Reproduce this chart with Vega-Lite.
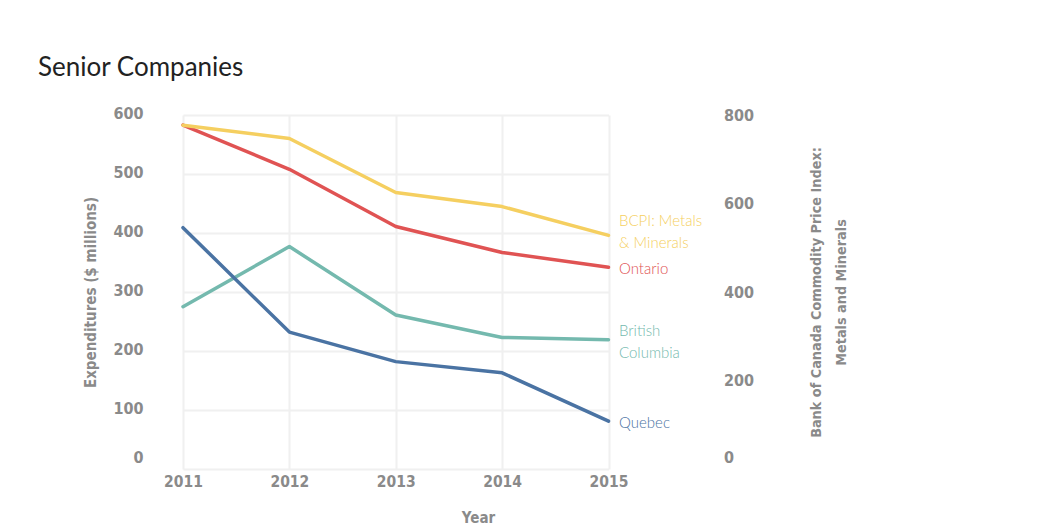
{
  "$schema": "https://vega.github.io/schema/vega-lite/v6.json",
  "width": 425.5,
  "height": 354,
  "autosize": {"type": "none"},
  "padding": {"left": 183, "top": 115, "right": 450.5, "bottom": 56},
  "background": "white",
  "title": {
    "text": "Senior Companies",
    "anchor": "start",
    "frame": "group",
    "font": "Lato",
    "fontSize": 26,
    "fontWeight": "normal",
    "color": "#222222",
    "dx": -145,
    "offset": 24
  },
  "data": {
    "values": [
      {"year": 2011, "series": "Ontario", "value": 583, "label": "Ontario"},
      {"year": 2012, "series": "Ontario", "value": 508, "label": "Ontario"},
      {"year": 2013, "series": "Ontario", "value": 411, "label": "Ontario"},
      {"year": 2014, "series": "Ontario", "value": 367, "label": "Ontario"},
      {"year": 2015, "series": "Ontario", "value": 342, "label": "Ontario"},
      {"year": 2011, "series": "British Columbia", "value": 275, "label": "British\nColumbia"},
      {"year": 2012, "series": "British Columbia", "value": 377, "label": "British\nColumbia"},
      {"year": 2013, "series": "British Columbia", "value": 261, "label": "British\nColumbia"},
      {"year": 2014, "series": "British Columbia", "value": 223, "label": "British\nColumbia"},
      {"year": 2015, "series": "British Columbia", "value": 219, "label": "British\nColumbia"},
      {"year": 2011, "series": "Quebec", "value": 409, "label": "Quebec"},
      {"year": 2012, "series": "Quebec", "value": 232, "label": "Quebec"},
      {"year": 2013, "series": "Quebec", "value": 182, "label": "Quebec"},
      {"year": 2014, "series": "Quebec", "value": 163, "label": "Quebec"},
      {"year": 2015, "series": "Quebec", "value": 81, "label": "Quebec"},
      {"year": 2011, "series": "BCPI", "value": 777, "label": "BCPI: Metals\n& Minerals"},
      {"year": 2012, "series": "BCPI", "value": 747, "label": "BCPI: Metals\n& Minerals"},
      {"year": 2013, "series": "BCPI", "value": 625, "label": "BCPI: Metals\n& Minerals"},
      {"year": 2014, "series": "BCPI", "value": 593, "label": "BCPI: Metals\n& Minerals"},
      {"year": 2015, "series": "BCPI", "value": 528, "label": "BCPI: Metals\n& Minerals"}
    ]
  },
  "layer": [
    {
      "transform": [{"filter": "datum.series !== 'BCPI'"}],
      "encoding": {
        "x": {
          "field": "year",
          "type": "quantitative",
          "scale": {"domain": [2011, 2015], "nice": false, "zero": false},
          "axis": {
            "values": [2011, 2012, 2013, 2014, 2015],
            "format": "d",
            "title": "Year",
            "labelFlush": false,
            "labelPadding": 5,
            "labelFontSize": 15.5,
            "titleX": 295,
            "titleY": 48,
            "titleBaseline": "middle",
            "titleAnchor": "start",
            "titleAlign": "center",
            "gridColor": "#f0f0f0",
            "gridWidth": 2
          }
        },
        "y": {
          "field": "value",
          "type": "quantitative",
          "scale": {"domain": [0, 600], "nice": false},
          "axis": {
            "values": [0, 100, 200, 300, 400, 500, 600],
            "title": "Expenditures ($ millions)",
            "labelPadding": 40,
            "labelFontSize": 16,
            "labelOffset": {"condition": {"test": "datum.value === 0", "value": -12}, "value": -2},
            "titleX": -93,
            "titleY": 177,
            "titleBaseline": "middle",
            "titleAngle": -90,
            "titleAnchor": "middle",
            "gridColor": "#f0f0f0",
            "gridWidth": 2
          }
        },
        "color": {
          "field": "series",
          "type": "nominal",
          "scale": {
            "domain": ["BCPI", "Ontario", "British Columbia", "Quebec"],
            "range": ["#f5cf60", "#e05353", "#74b9ae", "#4a73a3"]
          },
          "legend": null
        }
      },
      "layer": [
        {"mark": {"type": "line", "strokeWidth": 3.5, "strokeCap": "round", "strokeJoin": "round"}},
        {
          "transform": [{"filter": "datum.year === 2015 && datum.series !== 'British Columbia'"}],
          "mark": {"type": "text", "align": "left", "baseline": "middle", "dx": 10.5, "dy": 1.5, "font": "Lato", "fontWeight": 300, "fontSize": 15, "lineBreak": "\n", "lineHeight": 22.6},
          "encoding": {"text": {"field": "label", "type": "nominal"}}
        },
        {
          "transform": [{"filter": "datum.year === 2015 && datum.series === 'British Columbia'"}],
          "mark": {"type": "text", "align": "left", "baseline": "middle", "dx": 10.5, "dy": -9, "font": "Lato", "fontWeight": 300, "fontSize": 15, "lineBreak": "\n", "lineHeight": 22.6},
          "encoding": {"text": {"field": "label", "type": "nominal"}}
        }
      ]
    },
    {
      "transform": [{"filter": "datum.series === 'BCPI'"}],
      "encoding": {
        "x": {"field": "year", "type": "quantitative", "scale": {"domain": [2011, 2015], "nice": false, "zero": false}},
        "y": {
          "field": "value",
          "type": "quantitative",
          "scale": {"domain": [0, 800], "nice": false},
          "axis": {
            "orient": "right",
            "values": [0, 200, 400, 600, 800],
            "grid": false,
            "title": ["Bank of Canada Commodity Price Index:", "Metals and Minerals"],
            "labelPadding": 115,
            "labelFontSize": 16,
            "labelOffset": {"condition": {"test": "datum.value === 0", "value": -12}, "value": 0},
            "titleX": 208,
            "titleY": 177,
            "titleFontSize": 14.3,
            "titleBaseline": "middle",
            "titleAngle": -90,
            "titleAnchor": "middle",
            "titleLineHeight": 25
          }
        },
        "color": {"field": "series", "type": "nominal", "legend": null}
      },
      "layer": [
        {"mark": {"type": "line", "strokeWidth": 3.5, "strokeCap": "round", "strokeJoin": "round"}},
        {
          "transform": [{"filter": "datum.year === 2015"}],
          "mark": {"type": "text", "align": "left", "baseline": "middle", "dx": 10.5, "dy": -14.5, "font": "Lato", "fontWeight": 300, "fontSize": 15, "lineBreak": "\n", "lineHeight": 22.6},
          "encoding": {"text": {"field": "label", "type": "nominal"}}
        }
      ]
    }
  ],
  "resolve": {"scale": {"y": "independent"}},
  "config": {
    "view": {"stroke": null},
    "axis": {
      "domain": false,
      "ticks": false,
      "tickSize": 0,
      "labelFont": "'DejaVu Sans Condensed', Roboto, sans-serif",
      "labelFontWeight": "bold",
      "labelFontSize": 15,
      "labelColor": "#8a8a8a",
      "titleFont": "'DejaVu Sans Condensed', Roboto, sans-serif",
      "titleFontWeight": "bold",
      "titleFontSize": 15,
      "titleColor": "#8a8a8a"
    }
  }
}
